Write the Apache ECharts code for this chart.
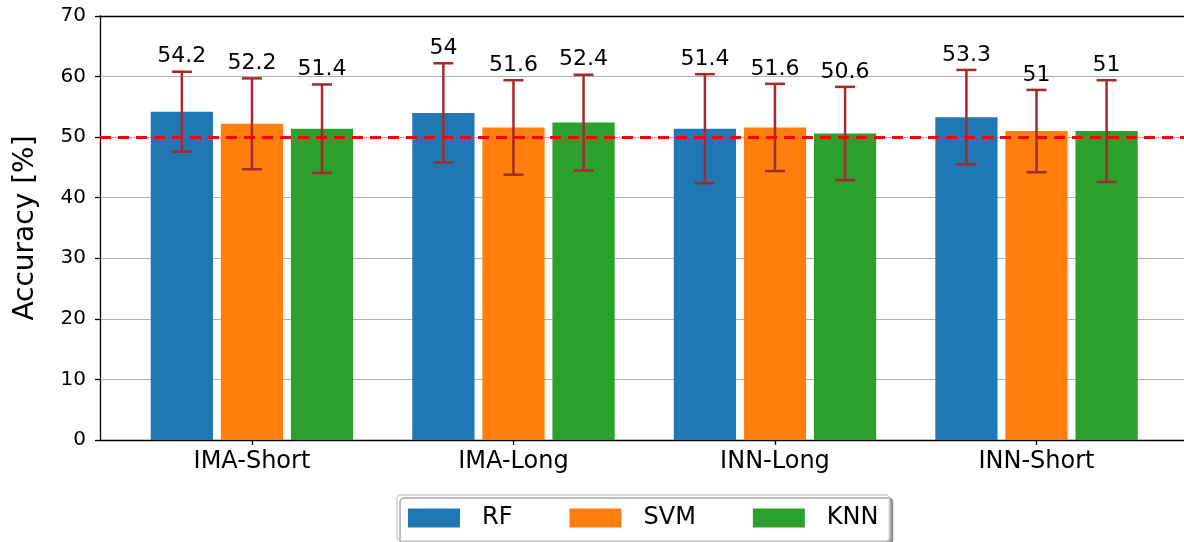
<!DOCTYPE html>
<html>
<head>
<meta charset="utf-8">
<script src="https://cdn.jsdelivr.net/npm/echarts@6/dist/echarts.min.js"></script>
<style>
  html, body { margin: 0; padding: 0; background: #fff; }
  #chart { width: 1184px; height: 542px; }
</style>
</head>
<body>
<div id="chart"></div>
<script>
// data
const categories = ['IMA-Short', 'IMA-Long', 'INN-Long', 'INN-Short']
const seriesNames = ['RF', 'SVM', 'KNN']
const rfValues = [54.2, 54, 51.4, 53.3]
const rfErrors = [6.6, 8.2, 9.0, 7.8]
const svmValues = [52.2, 51.6, 51.6, 51]
const svmErrors = [7.5, 7.8, 7.2, 6.8]
const knnValues = [51.4, 52.4, 50.6, 51]
const knnErrors = [7.3, 7.9, 7.7, 8.4]
const yTicks = [0, 10, 20, 30, 40, 50, 60, 70]
const chanceLevel = 50

const colors = ['#1f77b4', '#ff7f0e', '#2ca02c']
const offsets = [-0.268, 0, 0.268]
const barWidth = 0.238
const font = 'DejaVu Sans'

const chart = echarts.init(document.getElementById('chart'))

function makeSeries(idx, values, errors) {
  return {
    name: seriesNames[idx],
    type: 'custom',
    itemStyle: { color: colors[idx] },
    data: values.map((v, k) => [k, v, errors[k]]),
    renderItem: (params, api) => {
      const x = api.value(0) + offsets[idx]
      const v = api.value(1)
      const e = api.value(2)
      const top = api.coord([x, v])
      const base = api.coord([x, 0])
      const w = api.size([barWidth, 0])[0]
      const eTop = api.coord([x, v + e])
      const eBot = api.coord([x, v - e])
      const cap = 10
      const errStyle = { stroke: '#a52a2a', lineWidth: 2.5 }
      return {
        type: 'group',
        children: [
          {
            type: 'rect',
            shape: { x: top[0] - w / 2, y: top[1], width: w, height: base[1] - top[1] },
            style: { fill: colors[idx] }
          },
          { type: 'line', shape: { x1: eTop[0], y1: eTop[1], x2: eBot[0], y2: eBot[1] }, style: errStyle },
          { type: 'line', shape: { x1: eTop[0] - cap, y1: eTop[1], x2: eTop[0] + cap, y2: eTop[1] }, style: errStyle },
          { type: 'line', shape: { x1: eBot[0] - cap, y1: eBot[1], x2: eBot[0] + cap, y2: eBot[1] }, style: errStyle },
          {
            type: 'text',
            x: eTop[0],
            y: eTop[1] - 4,
            style: {
              text: String(v),
              fill: '#000',
              font: '22px "' + font + '"',
              align: 'center',
              verticalAlign: 'bottom'
            }
          }
        ]
      }
    }
  }
}

const series = [
  makeSeries(0, rfValues, rfErrors),
  makeSeries(1, svmValues, svmErrors),
  makeSeries(2, knnValues, knnErrors)
]

// dashed chance line
series[0].markLine = {
  silent: true,
  symbol: 'none',
  z: 10,
  label: { show: false },
  lineStyle: { color: '#ff0000', width: 3, type: [11, 7] },
  data: [{ yAxis: chanceLevel }]
}

chart.setOption({
  animation: false,
  textStyle: { fontFamily: font },
  grid: { left: 100, right: 0, top: 16, bottom: 102, outerBoundsMode: 'none', containLabel: false },
  legend: {
    data: seriesNames.map((n) => ({ name: n, icon: 'rect' })),
    left: 397,
    top: 495,
    orient: 'horizontal',
    itemWidth: 52,
    itemHeight: 19,
    itemGap: 57,
    padding: [11, 11, 11, 11],
    borderColor: '#cccccc',
    borderWidth: 1.5,
    borderRadius: 4,
    backgroundColor: '#ffffff',
    shadowColor: 'rgba(0,0,0,0.35)',
    shadowOffsetX: 3,
    shadowOffsetY: 3,
    shadowBlur: 0,
    textStyle: { fontSize: 24, color: '#000', fontFamily: font, padding: [0, 0, 0, 17] }
  },
  xAxis: [
    {
      type: 'value',
      min: -0.581,
      max: 3.564,
      axisLine: { show: true, lineStyle: { color: '#000', width: 1.3 } },
      axisTick: { show: true, length: 5, customValues: [0, 1, 2, 3], lineStyle: { color: '#000', width: 1.3 } },
      axisLabel: {
        customValues: [0, 1, 2, 3],
        formatter: (v) => categories[Math.round(v)] || '',
        fontSize: 24,
        color: '#000',
        margin: 10
      },
      splitLine: { show: false }
    },
    {
      type: 'value',
      position: 'top',
      min: -0.581,
      max: 3.564,
      axisLine: { show: true, onZero: false, lineStyle: { color: '#000', width: 1.3 } },
      axisTick: { show: false },
      axisLabel: { show: false },
      splitLine: { show: false }
    }
  ],
  yAxis: {
    type: 'value',
    min: yTicks[0],
    max: yTicks[yTicks.length - 1],
    interval: 10,
    name: 'Accuracy [%]',
    nameLocation: 'middle',
    nameGap: 60,
    nameRotate: 90,
    nameTextStyle: { fontSize: 28, color: '#000' },
    axisLine: { show: true, onZero: false, lineStyle: { color: '#000', width: 1.3 } },
    axisTick: { show: true, length: 5, lineStyle: { color: '#000', width: 1.3 } },
    axisLabel: { fontSize: 20, color: '#000', margin: 14 },
    splitLine: { show: true, lineStyle: { color: '#b0b0b0', width: 1 } }
  },
  series: series
})
</script>
</body>
</html>
